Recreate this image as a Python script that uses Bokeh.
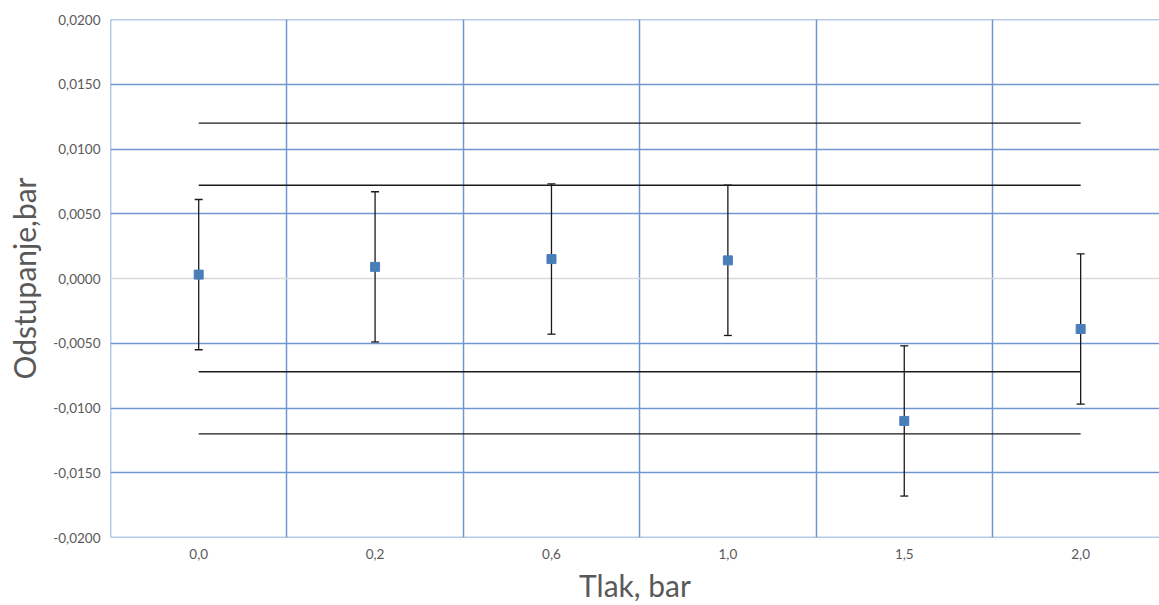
from bokeh.plotting import figure
from bokeh.models import FixedTicker, ColumnDataSource, Whisker, Span
from bokeh.embed import file_html
from bokeh.resources import INLINE

categories = ["0,0", "0,2", "0,6", "1,0", "1,5", "2,0"]
deviation = [0.0003, 0.0009, 0.0015, 0.0014, -0.0110, -0.0039]
uncertainty = [0.0058, 0.0058, 0.0058, 0.0058, 0.0058, 0.0058]
limit_inner = 0.0072
limit_outer = 0.0120
y_ticks = [-0.02, -0.015, -0.01, -0.005, 0.0, 0.005, 0.01, 0.015, 0.02]
y_labels = ["-0,0200", "-0,0150", "-0,0100", "-0,0050", "0,0000",
            "0,0050", "0,0100", "0,0150", "0,0200"]

xc = [i + 0.5 for i in range(len(categories))]

FONT = "Lato"
GRID = "#6f96d0"

p = figure(width=1159, height=605, output_backend="svg", toolbar_location=None,
           x_range=(0, 5.947), y_range=(-0.02, 0.02),
           min_border_left=110, min_border_top=19, min_border_bottom=68,
           min_border_right=0)
p.outline_line_color = None
p.background_fill_color = "white"

# axes
p.xaxis.ticker = FixedTicker(ticks=xc)
p.xaxis.major_label_overrides = {x: c for x, c in zip(xc, categories)}
p.yaxis.ticker = FixedTicker(ticks=y_ticks)
p.yaxis.major_label_overrides = {t: l for t, l in zip(y_ticks, y_labels)}
for ax in (p.xaxis[0], p.yaxis[0]):
    ax.axis_line_color = None
    ax.major_tick_line_color = None
    ax.minor_tick_line_color = None
    ax.major_tick_out = 0
    ax.major_tick_in = 0
    ax.major_label_text_font = FONT
    ax.major_label_text_font_size = "13.5px"
    ax.major_label_text_color = "#595959"
    ax.axis_label_text_font = FONT
    ax.axis_label_text_font_size = "30px"
    ax.axis_label_text_color = "#595959"
    ax.axis_label_text_font_style = "normal"
p.yaxis.major_label_standoff = 10
p.xaxis.major_label_standoff = 11
p.xaxis.axis_label = "Tlak, bar"
p.yaxis.axis_label = "Odstupanje,bar"
p.xaxis.axis_label_standoff = 5
p.yaxis.axis_label_standoff = 8

# grids
p.xgrid.ticker = FixedTicker(ticks=[1, 2, 3, 4, 5])
p.xgrid.grid_line_color = GRID
p.xgrid.grid_line_width = 1.5
p.ygrid.ticker = FixedTicker(ticks=[t for t in y_ticks if t != 0.0])
p.ygrid.grid_line_color = GRID
p.ygrid.grid_line_width = 1.5
for loc, dim in ((y_ticks[0], "width"), (y_ticks[-1], "width"), (0.0, "height")):
    p.add_layout(Span(location=loc, dimension=dim, line_color=GRID,
                      line_width=1.5, level="underlay"))
p.add_layout(Span(location=0.0, dimension="width", line_color="#d9d9d9",
                  line_width=1.5, level="underlay"))

# limit lines
for lv in (limit_outer, limit_inner, -limit_inner, -limit_outer):
    p.line([xc[0], xc[-1]], [lv, lv], line_color="#1a1a1a", line_width=1.3)

src = ColumnDataSource(dict(
    x=xc, y=deviation,
    upper=[d + u for d, u in zip(deviation, uncertainty)],
    lower=[d - u for d, u in zip(deviation, uncertainty)],
))
w = Whisker(base="x", upper="upper", lower="lower", source=src,
            line_color="#1a1a1a", line_width=1.3)
w.upper_head.size = 8
w.lower_head.size = 8
w.upper_head.line_color = "#1a1a1a"
w.lower_head.line_color = "#1a1a1a"
w.upper_head.line_width = 1.3
w.lower_head.line_width = 1.3
p.add_layout(w)

p.scatter("x", "y", source=src, marker="square", size=9,
          fill_color="#4a7ebb", line_color="#4a7ebb")

open("out.html", "w").write(file_html(p, INLINE))
